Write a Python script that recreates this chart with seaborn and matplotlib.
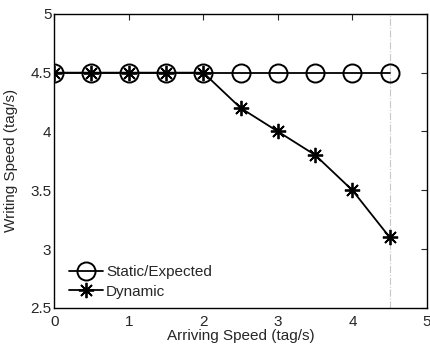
import numpy as np
import pandas as pd
import matplotlib
matplotlib.use("Agg")
import matplotlib.pyplot as plt
import seaborn as sns

# Dati
arriving = [0, 0.5, 1, 1.5, 2, 2.5, 3, 3.5, 4, 4.5]
static_expected = [4.5, 4.5, 4.5, 4.5, 4.5, 4.5, 4.5, 4.5, 4.5, 4.5]
dynamic = [4.5, 4.5, 4.5, 4.5, 4.5, 4.2, 4.0, 3.8, 3.5, 3.1]
x_ticks = [0, 1, 2, 3, 4, 5]
y_ticks = [2.5, 3, 3.5, 4, 4.5, 5]
limit_x = 4.5

sns.set_style("white")
plt.rcParams['font.family'] = ['Liberation Sans', 'DejaVu Sans']

df = pd.DataFrame({
    'Arriving Speed (tag/s)': arriving * 2,
    'Writing Speed (tag/s)': static_expected + dynamic,
    'Series': ['Static/Expected'] * len(arriving) + ['Dynamic'] * len(arriving),
})

fig, ax = plt.subplots(figsize=(4.30, 3.46), dpi=100)

ax.axvline(limit_x, color='#c8c8c8', linestyle='-.', linewidth=0.8, zorder=0)

sns.lineplot(data=df[df['Series'] == 'Static/Expected'], x='Arriving Speed (tag/s)',
             y='Writing Speed (tag/s)', ax=ax, color='black', linewidth=1.3,
             marker='o', markersize=13, markerfacecolor='none', markeredgecolor='black',
             markeredgewidth=1.4, label='Static/Expected')
sns.lineplot(data=df[df['Series'] == 'Dynamic'], x='Arriving Speed (tag/s)',
             y='Writing Speed (tag/s)', ax=ax, color='black', linewidth=1.3,
             marker=(8, 2, 0), markersize=11, markeredgecolor='black',
             markeredgewidth=1.3, label='Dynamic')

ax.set_xlim(0, 5)
ax.set_ylim(2.5, 5)
ax.set_xticks(x_ticks)
ax.set_yticks(y_ticks)
ax.set_xticklabels([f"{t:g}" for t in x_ticks])
ax.set_yticklabels([f"{t:g}" for t in y_ticks])
ax.tick_params(direction='in', length=4, width=0.8, top=True, right=True,
               labelsize=11)
ax.tick_params(axis='x', pad=5)
ax.tick_params(axis='y', pad=2)
for s in ax.spines.values():
    s.set_visible(True)
    s.set_color('black')
    s.set_linewidth(1.0)

ax.set_xlabel('Arriving Speed (tag/s)', fontsize=11, labelpad=0)
ax.set_ylabel('Writing Speed (tag/s)', fontsize=11, labelpad=9)

ax.legend(loc='lower left', frameon=False, fontsize=11, handlelength=2.2,
          handletextpad=0.2, borderaxespad=0.2, labelspacing=0.35,
          bbox_to_anchor=(0.016, 0.0))

fig.subplots_adjust(left=0.126, right=0.993, top=0.96, bottom=0.11)
fig.savefig('out.png', dpi=100)
